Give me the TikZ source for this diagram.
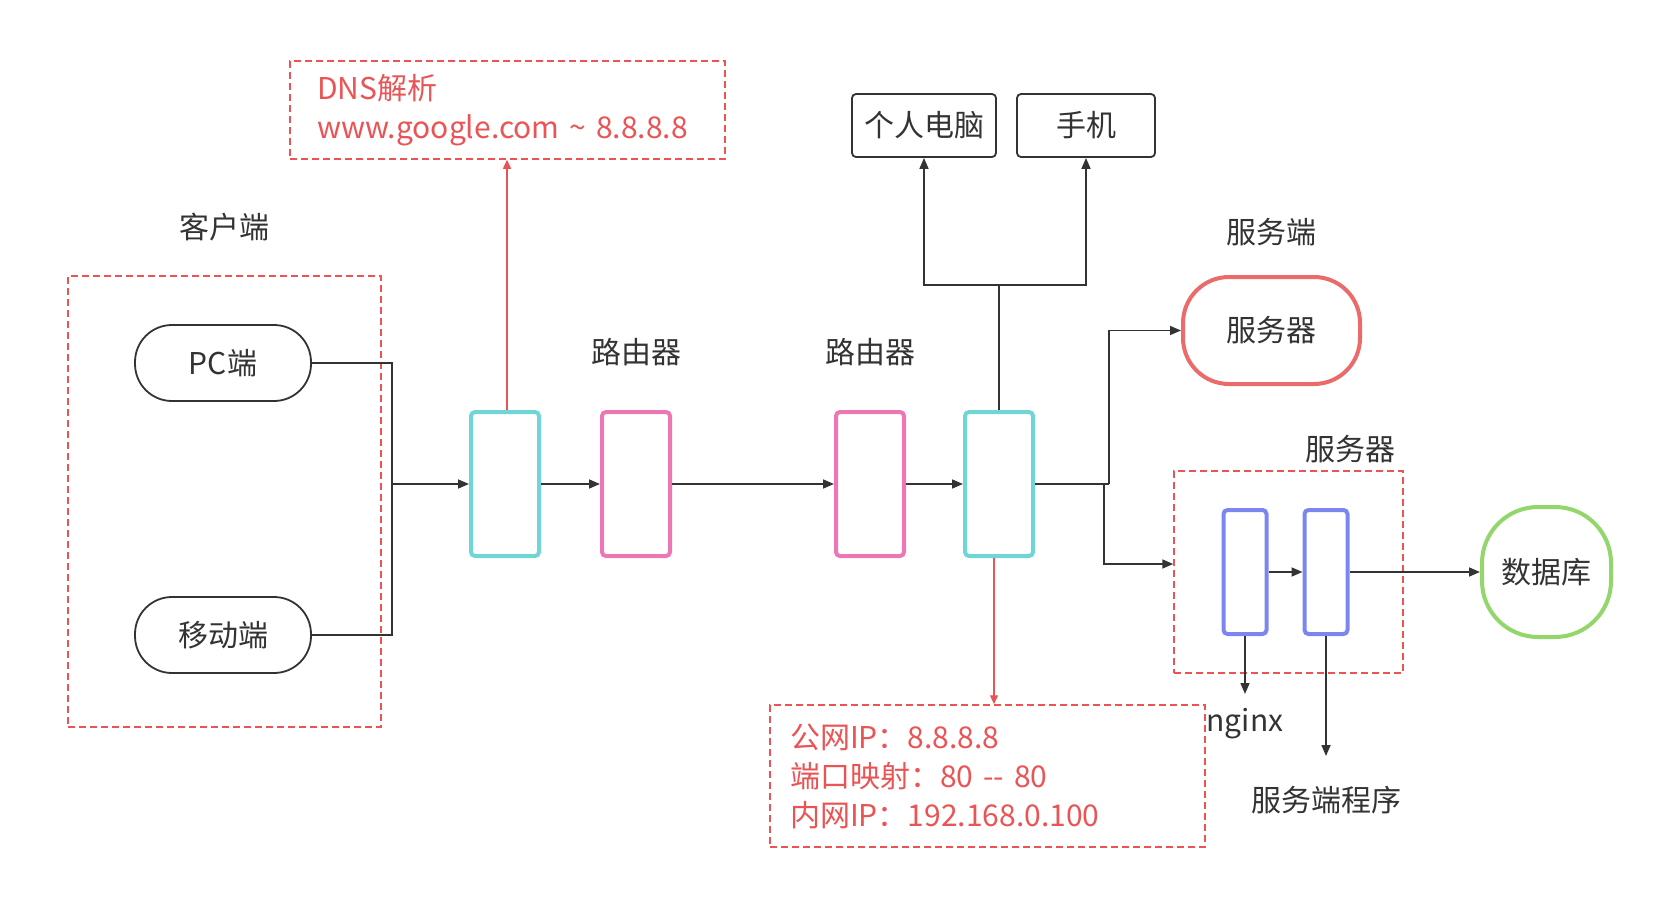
\documentclass[tikz,border=0pt]{standalone}
\usepackage{fontspec}
\setmainfont{Noto Sans CJK SC}
\usetikzlibrary{positioning,arrows.meta}
\definecolor{ink}{HTML}{333333}
\definecolor{dnsred}{HTML}{EA5455}
\definecolor{gwcyan}{HTML}{6FD5D6}
\definecolor{rtpink}{HTML}{EC77B4}
\definecolor{srvblue}{HTML}{7B87EE}
\definecolor{dbgreen}{HTML}{92D66C}
\definecolor{srvred}{HTML}{EB6B6B}

\begin{document}
\begin{tikzpicture}[x=1pt, y=-1pt,
    every node/.style={font=\fontsize{30}{39}\selectfont, text=ink},
    lbl/.style={inner sep=0pt},
    gate/.style={draw=gwcyan, line width=4pt, rounded corners=4pt, minimum width=68pt, minimum height=144pt},
    router/.style={gate, draw=rtpink},
    proc/.style={draw=srvblue, line width=4pt, rounded corners=4pt, minimum width=43pt, minimum height=124pt},
    pill/.style={draw=ink, line width=1.8pt, rounded corners=37pt, minimum width=176pt, minimum height=76pt},
    device/.style={draw=ink, line width=1.8pt, rounded corners=4pt, minimum height=63pt},
    zone/.style={draw=dnsred, line width=1.5pt, dash pattern=on 7pt off 4pt},
    note/.style={zone, text=dnsred, align=left, inner ysep=0pt},
    link/.style={draw=ink, line width=1.6pt},
    warn/.style={draw=dnsred, line width=1.4pt},
    arr/.style={-{Triangle[length=11pt, width=9pt]}},
    sarr/.style={-{Triangle[length=9pt, width=8pt]}}
]
    \useasboundingbox (0,0) rectangle (1672,910);

    % client side
    \node[zone, minimum width=313pt, minimum height=451pt] (cbox) at (224.5,501.5) {};
    \node[lbl] (ctitle) at (224,227) {客户端};
    \node[pill] (pc) at (223,363) {PC端};
    \node[pill] (mob) at (223,635) {移动端};

    % gateways and routers
    \node[gate] (gw1) at (505,484) {};
    \node[router, right=59pt of gw1] (rt1) {};
    \node[router, right=162pt of rt1] (rt2) {};
    \node[gate, right=57pt of rt2] (gw2) {};
    \node[lbl, above=44pt of rt1] (rt1lbl) {路由器};
    \node[lbl, above=44pt of rt2] (rt2lbl) {路由器};

    % dns and port mapping notes
    \node[note, text width=381pt, inner xsep=27pt, minimum height=98pt] (dns) at (507.5,110)
        {DNS解析\\www.google.com \textasciitilde{} 8.8.8.8};
    \node[note, text width=395pt, inner xsep=20pt, minimum height=142pt] (nat) at (987.5,776)
        {公网IP：8.8.8.8\\端口映射：80 -\kern0pt- 80\\内网IP：192.168.0.100};

    % local devices
    \node[device, minimum width=144pt] (pcdev) at (924,125.5) {个人电脑};
    \node[device, minimum width=138pt] (phone) at (1086,125.5) {手机};

    % server side
    \node[lbl] (stitle) at (1271,232) {服务端};
    \node[draw=srvred, line width=4pt, rounded corners=46pt, minimum width=177pt, minimum height=107pt] (srv) at (1271.5,330.5) {服务器};
    \node[zone, minimum width=229pt, minimum height=202pt] (sbox) at (1288.5,572) {};
    \node[lbl] (sboxlbl) at (1350,449) {服务器};
    \node[proc] (ngx) at (1245,572) {};
    \node[proc] (app) at (1326,572) {};
    \node[draw=dbgreen, line width=4pt, rounded corners=56pt, minimum width=129pt, minimum height=130pt] (db) at (1546.5,572) {数据库};
    \node[lbl] (ngxlbl) at (1245,724) {nginx};
    \node[lbl] (applbl) at (1326,800) {服务端程序};

    % connectors
    \coordinate (cj) at (392,484);
    \coordinate (tj) at (999,285);
    \coordinate (rj1) at (1109,484);
    \coordinate (rj2) at (1104,484);
    \draw[link] (pc.east) -| (cj);
    \draw[link] (mob.east) -| (cj);
    \draw[link, arr] (cj) -- (gw1.west);
    \draw[link, arr] (gw1.east) -- (rt1.west);
    \draw[link, arr] (rt1.east) -- (rt2.west);
    \draw[link, arr] (rt2.east) -- (gw2.west);
    \draw[warn, sarr] ([xshift=2pt]gw1.north) -- ([xshift=2pt]gw1.north |- dns.south);
    \draw[warn, sarr] ([xshift=-5pt]gw2.south) -- ([xshift=-5pt]gw2.south |- nat.north);
    \draw[link] (gw2.north) -- (tj);
    \draw[link, arr] (tj) -| (pcdev.south);
    \draw[link, arr] (tj) -| (phone.south);
    \draw[link] (gw2.east) -- (rj1);
    \draw[link, arr] (rj1) |- (srv.west);
    \draw[link, arr] (rj2) |- ([yshift=8pt]sbox.west);
    \draw[link, arr] (ngx.east) -- (app.west);
    \draw[link, arr] (app.east) -- (db.west);
    \draw[link, arr] (ngx.south) -- ++(0,58);
    \draw[link, arr] (app.south) -- ++(0,120);
\end{tikzpicture}
\end{document}
